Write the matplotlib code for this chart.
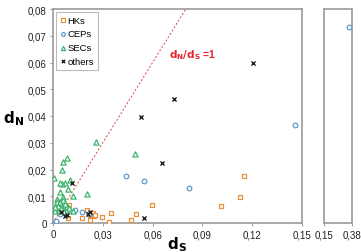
import matplotlib
matplotlib.use("Agg")
import matplotlib.pyplot as plt
import numpy as np
from matplotlib.ticker import FuncFormatter

plt.rcParams['font.family'] = ['Liberation Sans', 'DejaVu Sans']

# ---- data (dS, dN) ----
hk_ds = [0.0090, 0.0098, 0.0175, 0.0205, 0.0220, 0.0225, 0.0240, 0.0245, 0.0255, 0.0295,
         0.0337, 0.0347, 0.0468, 0.0498, 0.0594, 0.1010, 0.1127, 0.1149]
hk_dn = [0.0018, 0.0068, 0.0018, 0.0050, 0.0012, 0.0030, 0.0038, 0.0025, 0.0030, 0.0021,
         0.0004, 0.0038, 0.0010, 0.0035, 0.0067, 0.0065, 0.0098, 0.0177]

cep_ds = [0.0020, 0.0040, 0.0050, 0.0060, 0.0085, 0.0130, 0.0175, 0.0215, 0.0440, 0.0550,
          0.0820, 0.1460, 0.3550]
cep_dn = [0.0008, 0.0035, 0.0060, 0.0045, 0.0045, 0.0050, 0.0042, 0.0035, 0.0175, 0.0158,
          0.0130, 0.0366, 0.0733]

sec_ds = [0.0257, 0.0494, 0.0084, 0.0058, 0.0054, 0.0009, 0.0102, 0.0072, 0.0056, 0.0040,
          0.0092, 0.0042, 0.0119, 0.0207, 0.0058, 0.0022, 0.0026, 0.0040, 0.0060, 0.0082,
          0.0012, 0.0035, 0.0050, 0.0102, 0.0119, 0.0070, 0.0030, 0.0015, 0.0065, 0.0095]
sec_dn = [0.0302, 0.0258, 0.0242, 0.0228, 0.0198, 0.0168, 0.0161, 0.0150, 0.0147, 0.0148,
          0.0128, 0.0117, 0.0100, 0.0107, 0.0099, 0.0090, 0.0077, 0.0080, 0.0085, 0.0065,
          0.0045, 0.0050, 0.0055, 0.0049, 0.0044, 0.0070, 0.0062, 0.0060, 0.0040, 0.0055]

oth_ds = [0.0115, 0.0046, 0.0086, 0.0070, 0.0210, 0.0220, 0.0550, 0.0655, 0.0530, 0.0730, 0.1205]
oth_dn = [0.0148, 0.0041, 0.0031, 0.0026, 0.0035, 0.0040, 0.0019, 0.0223, 0.0396, 0.0465, 0.0598]

main_xticks = [0, 0.03, 0.06, 0.09, 0.12, 0.15]
main_yticks = [0, 0.01, 0.02, 0.03, 0.04, 0.05, 0.06, 0.07, 0.08]
break_xticks = [0.15, 0.38]
split = 0.15

c_hk = '#E8923F'
c_cep = '#5A9BD0'
c_sec = '#3DB36B'
c_oth = '#222222'
spine_c = '#9A9A9A'

fig = plt.figure(figsize=(3.61, 2.53), dpi=100)
ax = fig.add_axes([53/361, 29/253, 249/361, 214/253])
ax2 = fig.add_axes([324/361, 29/253, 28/361, 214/253])

def fmt(v, pos=None):
    if abs(v) < 1e-12:
        return '0'
    return ('%.2f' % v).replace('.', ',')

def part(xs, ys, upper):
    xs = np.asarray(xs); ys = np.asarray(ys)
    m = xs > split if upper else xs <= split
    return xs[m], ys[m]

def scatter_all(a, upper):
    x, y = part(hk_ds, hk_dn, upper)
    a.scatter(x, y, marker='s', s=10, facecolors='white', edgecolors=c_hk, linewidths=0.9, label='HKs', zorder=3)
    x, y = part(cep_ds, cep_dn, upper)
    a.scatter(x, y, marker='o', s=11, facecolors='white', edgecolors=c_cep, linewidths=0.9, label='CEPs', zorder=3)
    x, y = part(sec_ds, sec_dn, upper)
    a.scatter(x, y, marker='^', s=14, facecolors='white', edgecolors=c_sec, linewidths=0.9, label='SECs', zorder=3)
    x, y = part(oth_ds, oth_dn, upper)
    a.scatter(x, y, marker='x', s=9, color=c_oth, linewidths=1.0, label='others', zorder=4)

scatter_all(ax, False)
scatter_all(ax2, True)

ax.plot([0, 0.08], [0, 0.08], linestyle=(0, (2, 2)), color='#E04040', linewidth=0.7, zorder=2)
ax.text(0.0700, 0.0632, r'$\mathbf{d_N/d_S}$ =1', color='#E8202A', fontsize=7.5,
        fontweight='bold', va='center', ha='left')

ax.set_xlim(0, 0.15)
ax.set_ylim(0, 0.08)
ax.set_xticks(main_xticks)
ax.set_yticks(main_yticks)
ax.xaxis.set_major_formatter(FuncFormatter(fmt))
ax.yaxis.set_major_formatter(FuncFormatter(fmt))

ax2.set_xlim(0.15, 0.38)
ax2.set_ylim(0, 0.08)
ax2.set_xticks(break_xticks)
ax2.xaxis.set_major_formatter(FuncFormatter(fmt))
ax2.set_yticks([])

for a in (ax, ax2):
    for s in a.spines.values():
        s.set_color(spine_c)
        s.set_linewidth(1.2)
    a.tick_params(axis='both', length=2.5, width=0.7, color=spine_c, labelsize=7, labelcolor='#222222', pad=2)

leg = ax.legend(loc='upper left', fontsize=6.8, frameon=True, fancybox=False, edgecolor='#AAAAAA',
                handletextpad=0.15, handlelength=0.7, borderpad=0.4, labelspacing=0.5,
                borderaxespad=0.3, markerscale=0.8)
leg.get_frame().set_linewidth(0.8)

fig.text(14/361, 1 - 119/253, r'$\mathbf{d_N}$', fontsize=11, ha='center', va='center')
fig.text(177/361, 1 - 245/253, r'$\mathbf{d_S}$', fontsize=11, ha='center', va='center')

fig.savefig('out.png', dpi=100)
